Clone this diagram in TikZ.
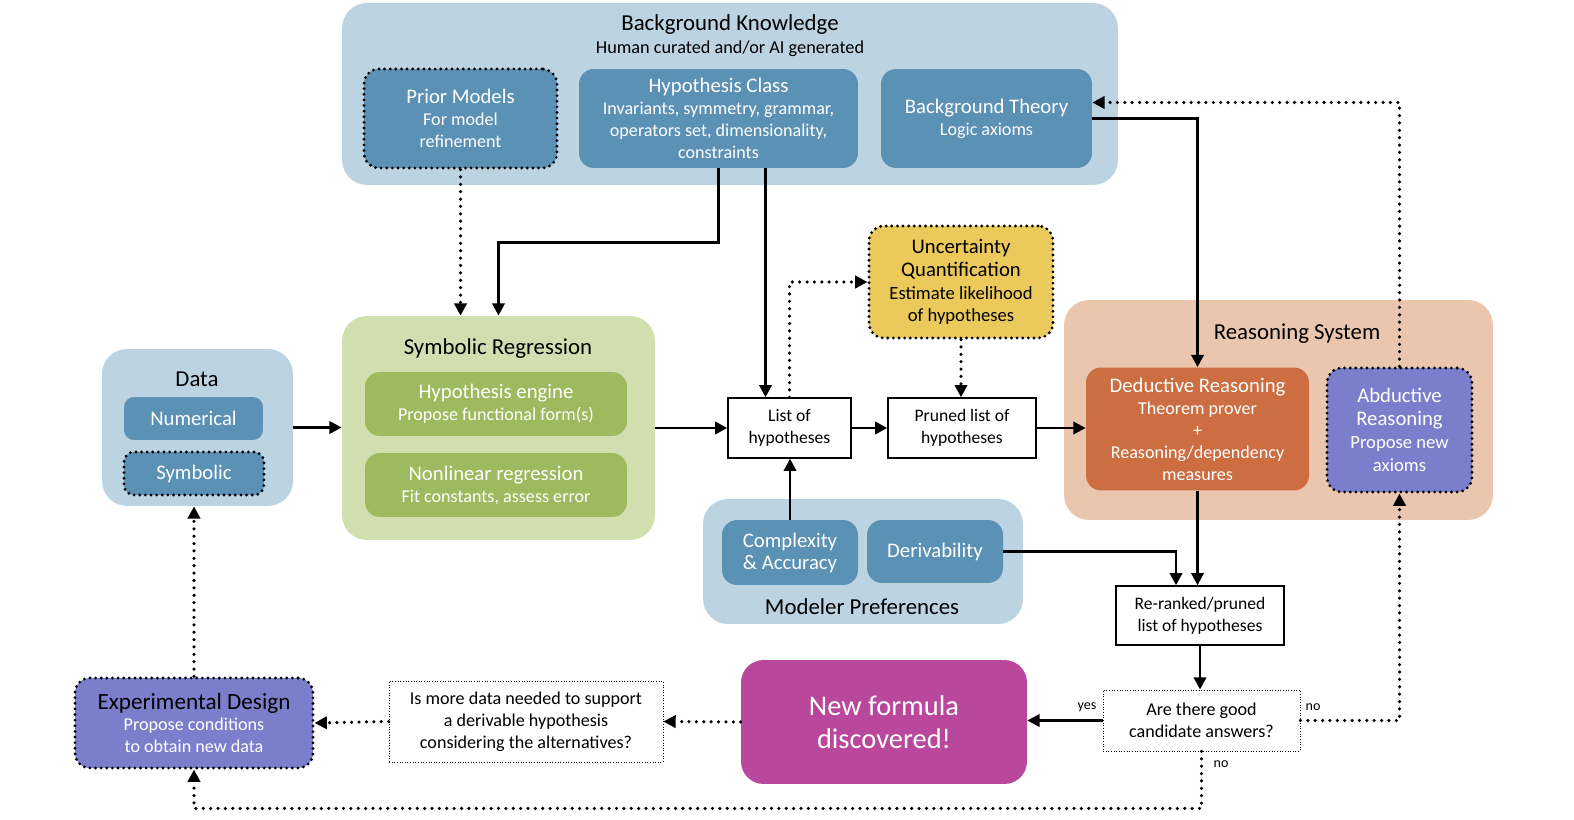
\documentclass[tikz,border=0pt]{standalone}
\usepackage{fontspec}
\setmainfont{Carlito}
\usetikzlibrary{arrows.meta,calc}
\definecolor{paleblue}{RGB}{188,212,226}
\definecolor{midblue}{RGB}{91,145,181}
\definecolor{palegreen}{RGB}{209,222,176}
\definecolor{leafgreen}{RGB}{157,187,94}
\definecolor{mustard}{RGB}{236,201,91}
\definecolor{peach}{RGB}{234,198,175}
\definecolor{rust}{RGB}{204,110,66}
\definecolor{lavender}{RGB}{123,127,203}
\definecolor{orchid}{RGB}{185,72,157}
\newcommand{\hd}[1]{{\fontsize{11.8}{13}\selectfont #1}}
\newcommand{\ttl}{\fontsize{13}{15}\selectfont}
\tikzset{
  grp/.style={rounded corners=0.5cm, inner sep=0pt},
  blk/.style={rounded corners=0.3cm, fill=midblue, text=white, align=center, inner sep=0pt, font=\fontsize{10.3}{12.5}\selectfont},
  dotbord/.style={draw, line width=1.8pt, dash pattern=on 0pt off 3.2pt, line cap=round},
  lbox/.style={draw, line width=0.8pt, fill=white, align=center, inner sep=0pt, font=\fontsize{10}{12.5}\selectfont},
  qbox/.style={draw, line width=0.5pt, densely dotted, fill=white, align=center, inner sep=0pt, font=\fontsize{10.3}{12.5}\selectfont},
  arr/.style={line width=1.6pt, -{Triangle[length=7pt,width=7pt]}},
  darr/.style={arr, line width=2pt, dash pattern=on 0pt off 4.2pt, line cap=round},
  tag/.style={font=\fontsize{8}{9}\selectfont, inner sep=1pt}
}
\begin{document}
\begin{tikzpicture}[x=0.02cm,y=-0.02cm]
\useasboundingbox (0,0) rectangle (1574,820);
\node[grp, fill=paleblue, minimum width=15.52cm, minimum height=3.64cm] (bk) at (730,94) {};
\node[font=\ttl] (bktitle) at (730,25) {Background Knowledge};
\node[font=\fontsize{10.4}{12}\selectfont] (bksub) at (730,49) {Human curated and/or AI generated};
\node[blk, dotbord, minimum width=3.86cm, minimum height=1.98cm] (pm) at (460.5,118.5) {\hd{Prior Models}\\For model\\refinement};
\node[blk, minimum width=5.58cm, minimum height=1.98cm] (hc) at (718.5,118.5) {\hd{Hypothesis Class}\\Invariants, symmetry, grammar,\\operators set, dimensionality,\\constraints};
\node[blk, minimum width=4.22cm, minimum height=1.98cm] (bt) at (986.5,118.5) {\hd{Background Theory}\\Logic axioms};

\node[grp, fill=paleblue, minimum width=3.82cm, minimum height=3.14cm] (data) at (197.5,427.5) {};
\node[font=\ttl] (datatitle) at (197,379) {Data};
\node[blk, rounded corners=0.2cm, minimum width=2.78cm, minimum height=0.86cm] (num) at (193.5,418.5) {\hd{Numerical}};
\node[blk, dotbord, rounded corners=0.2cm, minimum width=2.8cm, minimum height=0.86cm] (sym) at (194,473.5) {\hd{Symbolic}};

\node[grp, fill=palegreen, minimum width=6.26cm, minimum height=4.48cm] (sr) at (498.5,428) {};
\node[font=\ttl] (srtitle) at (498,349) {Symbolic Regression};
\node[blk, fill=leafgreen, minimum width=5.24cm, minimum height=1.28cm] (he) at (496,404) {\hd{Hypothesis engine}\\Propose functional form(s)};
\node[blk, fill=leafgreen, minimum width=5.24cm, minimum height=1.28cm] (nl) at (496,485) {\hd{Nonlinear regression}\\Fit constants, assess error};

\node[lbox, minimum width=2.46cm, minimum height=1.2cm] (lst) at (789.5,428) {List of\\hypotheses};
\node[lbox, minimum width=2.96cm, minimum height=1.2cm] (pr) at (962,428) {Pruned list of\\hypotheses};
\node[blk, dotbord, fill=mustard, text=black, font=\fontsize{10.6}{13}\selectfont, minimum width=3.68cm, minimum height=2.24cm] (uq) at (961,282) {\hd{Uncertainty}\\\hd{Quantification}\\Estimate likelihood\\of hypotheses};

\node[grp, fill=paleblue, minimum width=6.4cm, minimum height=2.5cm] (mp) at (863,561.5) {};
\node[font=\ttl] (mptitle) at (862,607) {Modeler Preferences};
\node[blk, minimum width=2.72cm, minimum height=1.3cm] (ca) at (790,552.5) {\hd{Complexity}\\\hd{\& Accuracy}};
\node[blk, minimum width=2.72cm, minimum height=1.26cm] (der) at (935,551.5) {\hd{Derivability}};

\node[grp, fill=peach, minimum width=8.58cm, minimum height=4.4cm] (rs) at (1278.5,410) {};
\node[font=\ttl] (rstitle) at (1297,334) {Reasoning System};
\node[blk, fill=rust, minimum width=4.46cm, minimum height=2.46cm] (ded) at (1197.5,429) {\hd{Deductive Reasoning}\\Theorem prover\\+\\Reasoning/dependency\\measures};
\node[blk, dotbord, fill=lavender, font=\fontsize{10.6}{13}\selectfont, minimum width=2.9cm, minimum height=2.48cm] (abd) at (1399.5,430) {\hd{Abductive}\\\hd{Reasoning}\\Propose new\\axioms};

\node[lbox, minimum width=3.36cm, minimum height=1.18cm] (rr) at (1200,615.5) {Re-ranked/pruned\\list of hypotheses};
\node[qbox, minimum width=3.94cm, minimum height=1.22cm] (good) at (1201.5,720.5) {Are there good\\candidate answers?};
\node[blk, fill=orchid, rounded corners=0.45cm, font=\fontsize{16.2}{19}\selectfont, minimum width=5.72cm, minimum height=2.48cm] (nf) at (884,722) {New formula\\discovered!};
\node[qbox, minimum width=5.48cm, minimum height=1.62cm] (more) at (526,721.5) {Is more data needed to support\\a derivable hypothesis\\considering the alternatives?};
\node[blk, dotbord, fill=lavender, minimum width=4.76cm, minimum height=1.8cm] (exp) at (194,723) {\textcolor{black}{\fontsize{13.2}{14}\selectfont Experimental Design}\\Propose conditions\\to obtain new data};

\node[tag] (yes) at (1087,707) {yes};
\node[tag] (noright) at (1313,707) {no};
\node[tag] (nodown) at (1221,764) {no};

\draw[darr] (pm.south) -- (pm.south |- sr.north);
\draw[arr] (hc.south) -- ++(0,74) -| (sr.north);
\coordinate (lstin) at ($(lst.north)+(-24,0)$);
\draw[arr] (hc.south -| lstin) -- (lstin);
\draw[arr] (bt.east) -| (ded.north);
\draw[darr] (abd.north) |- ($(bt.east)+(0,-16)$);
\draw[arr] (data.east) -- (data.east -| sr.west);
\draw[arr] (sr.east) -- (lst.west);
\draw[arr] (lst.east) -- (pr.west);
\draw[arr] (pr.east) -- (pr.east -| ded.west);
\draw[darr] (lst.north) |- (uq.west);
\draw[darr] (uq.south) -- (uq.south |- pr.north);
\draw[arr] (ca.north) -- (ca.north |- lst.south);
\coordinate (rrin) at ($(rr.north)+(-24,0)$);
\draw[arr] (der.east) -| (rrin);
\draw[arr] (ded.south) -- (ded.south |- rr.north);
\draw[arr] (rr.south) -- (rr.south |- good.north);
\draw[arr] (good.west) -- (good.west -| nf.east);
\draw[darr] (good.east) -| (abd.south);
\draw[darr] (good.south) -- ++(0,57) -| (exp.south);
\draw[darr] (nf.west) -- (more.east);
\draw[darr] (more.west) -- (exp.east);
\draw[darr] (exp.north) -- (exp.north |- data.south);
\end{tikzpicture}
\end{document}
